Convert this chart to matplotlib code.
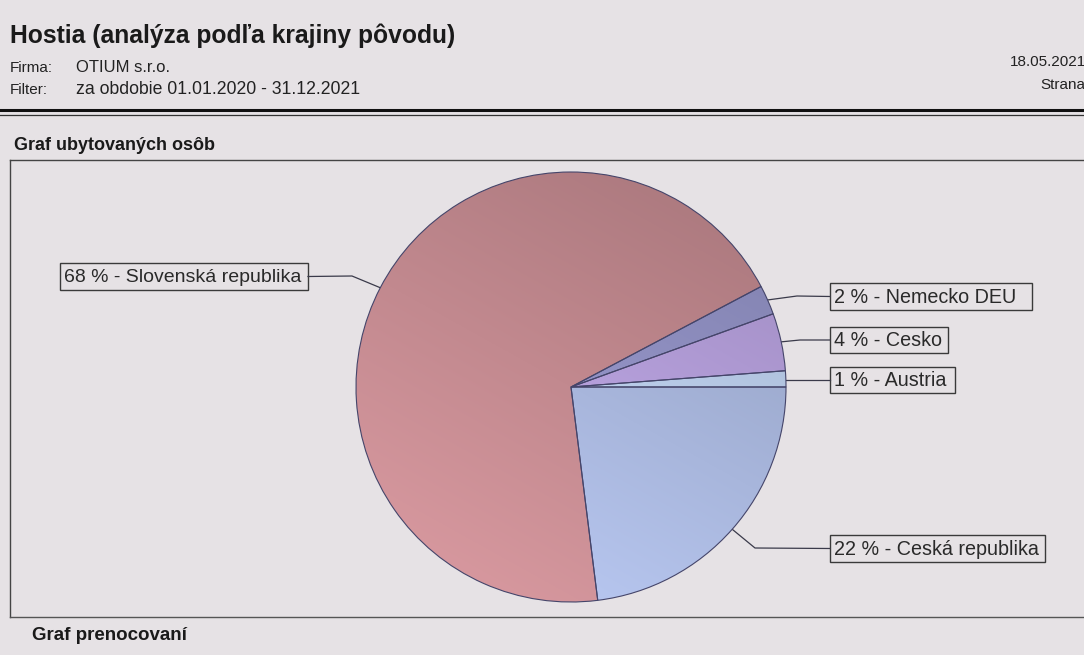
import numpy as np
import matplotlib
matplotlib.use('Agg')
import matplotlib.pyplot as plt
from matplotlib.colors import to_rgb
from matplotlib.patches import Rectangle

plt.rcParams['font.family'] = ['Liberation Sans', 'DejaVu Sans']

# data
countries = ['Austria', 'Cesko', 'Nemecko DEU', 'Slovenská republika', 'Ceská republika']
shares = [1.2, 4.3, 2.2, 68.9, 22.9]
shown_pct = [1, 4, 2, 68, 22]
colors = ['#bccfec', '#b6a0dc', '#9393c6', '#c2898f', '#a8b6dc']

# label boxes (left, top, right, bottom in pixels) and elbow of leader line
boxes = {
    'Austria': (830, 367, 955, 393),
    'Cesko': (830, 327, 948, 353),
    'Nemecko DEU': (830, 283, 1032, 310),
    'Slovenská republika': (60, 263, 308, 290),
    'Ceská republika': (830, 535, 1045, 562),
}
elbows = {
    'Austria': None,
    'Cesko': (800, 340),
    'Nemecko DEU': (797, 296),
    'Slovenská republika': (352, 276),
    'Ceská republika': (755, 548),
}

W, H = 1084, 655
bg = '#e6e2e5'
fig = plt.figure(figsize=(W / 100, H / 100), dpi=100, facecolor=bg)

# overlay in pixel coords (y down)
ov = fig.add_axes([0, 0, 1, 1])
ov.set_xlim(0, W)
ov.set_ylim(H, 0)
ov.axis('off')

ov.text(10, 36, 'Hostia (analýza podľa krajiny pôvodu)', fontsize=17.7, fontweight='bold',
        color='#1a1a1a', va='center')
ov.text(10, 68, 'Firma:', fontsize=11, color='#222222', va='center')
ov.text(10, 90, 'Filter:', fontsize=11, color='#222222', va='center')
ov.text(76, 68, 'OTIUM s.r.o.', fontsize=12, color='#222222', va='center')
ov.text(76, 90, 'za obdobie 01.01.2020 - 31.12.2021', fontsize=12.7, color='#222222', va='center')
ov.text(1086, 62, '18.05.2021', fontsize=11, color='#222222', va='center', ha='right')
ov.text(1040, 85, 'Strana', fontsize=11, color='#222222', va='center', ha='left')
ov.plot([0, W], [110, 110], color='#111111', lw=2.2)
ov.plot([0, W], [115, 115], color='#333333', lw=0.9)

ov.text(14, 145, 'Graf ubytovaných osôb', fontsize=13, fontweight='bold', color='#1a1a1a', va='center')
ov.plot([10, W], [160, 160], color='#444444', lw=1)
ov.plot([10, 10], [160, 617], color='#444444', lw=1)
ov.plot([10, W], [617, 617], color='#555555', lw=1)
ov.text(32, 636, 'Graf prenocovaní', fontsize=13.5, fontweight='bold', color='#1a1a1a', va='center')

# pie axes, square in pixels
cx, cy, R = 571, 387, 215
pax = fig.add_axes([(cx - R) / W, (H - cy - R) / H, 2 * R / W, 2 * R / H])
pax.patch.set_visible(False)
wedges, _ = pax.pie(shares, colors=colors, startangle=0, counterclock=True,
                    wedgeprops=dict(edgecolor='#45456a', linewidth=0.8))
pax.set_xlim(-1, 1)
pax.set_ylim(-1, 1)
pax.set_aspect('auto')
pax.axis('off')

# soft shading on each slice (darker toward the top right)
gx, gy = np.meshgrid(np.linspace(-1, 1, 300), np.linspace(1, -1, 300))
shade = 1 - 0.09 * gy - 0.05 * gx
for w, c in zip(wedges, colors):
    rgb = np.array(to_rgb(c))
    img = np.clip(shade[..., None] * rgb[None, None, :], 0, 1)
    im = pax.imshow(img, extent=(-1, 1, -1, 1), zorder=w.get_zorder() + 0.1)
    im.set_clip_path(w)
    w.set_facecolor('none')
    w.set_zorder(w.get_zorder() + 0.2)

# labels and leader lines
for w, name, pct in zip(wedges, countries, shown_pct):
    mid = np.deg2rad((w.theta1 + w.theta2) / 2)
    px, py = cx + R * np.cos(mid), cy - R * np.sin(mid)
    l, t, r, b = boxes[name]
    ym = (t + b) / 2
    side_x = r if l < cx else l
    if elbows[name] is None:
        ov.plot([px, side_x], [ym, ym], color='#3a3a4a', lw=0.9)
    else:
        ex, ey = elbows[name]
        ov.plot([px, ex, side_x], [py, ey, ym], color='#3a3a4a', lw=0.9)
    ov.add_patch(Rectangle((l, t), r - l, b - t, facecolor='none', edgecolor='#3a3a3a', lw=1))
    fs = 14 if l < cx else 14.2
    ov.text(l + 4, ym + 1, '%d %% - %s' % (pct, name), fontsize=fs, color='#2a2a2a',
            va='center', ha='left')

fig.savefig('out.png', dpi=100, facecolor=bg)
